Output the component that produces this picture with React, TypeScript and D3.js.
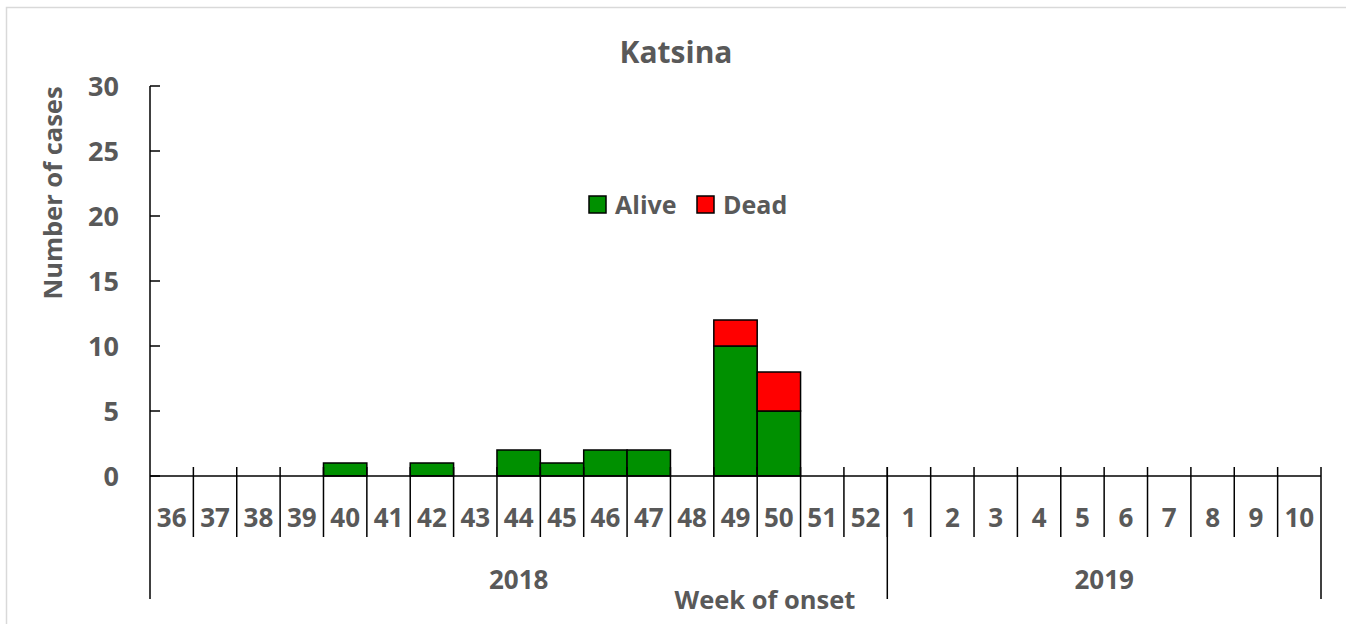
import React from "react";
import * as d3 from "d3";

// week of onset (2018 weeks 36-52, 2019 weeks 1-10)
const weeks2018 = ["36", "37", "38", "39", "40", "41", "42", "43", "44", "45", "46", "47", "48", "49", "50", "51", "52"];
const weeks2019 = ["1", "2", "3", "4", "5", "6", "7", "8", "9", "10"];
const alive2018 = [0, 0, 0, 0, 1, 0, 1, 0, 2, 1, 2, 2, 0, 10, 5, 0, 0];
const dead2018 = [0, 0, 0, 0, 0, 0, 0, 0, 0, 0, 0, 0, 0, 2, 3, 0, 0];
const alive2019 = [0, 0, 0, 0, 0, 0, 0, 0, 0, 0];
const dead2019 = [0, 0, 0, 0, 0, 0, 0, 0, 0, 0];
const yTicks = [0, 5, 10, 15, 20, 25, 30];
const seriesNames = ["Alive", "Dead"];
const colors = ["#009000", "#ff0000"];

const App = () => {
  const ref = React.useRef<SVGSVGElement>(null);

  React.useEffect(() => {
    const width = 1346;
    const height = 624;
    const margin = { left: 150, right: 25, top: 86, bottom: 148 };
    const font = "'Open Sans', 'DejaVu Sans', sans-serif";
    const textColor = "#595959";

    const svg = d3.select(ref.current);
    svg.selectAll("*").remove();

    const rows = [
      ...weeks2018.map((w, i) => ({ key: "2018-" + w, week: w, alive: alive2018[i], dead: dead2018[i] })),
      ...weeks2019.map((w, i) => ({ key: "2019-" + w, week: w, alive: alive2019[i], dead: dead2019[i] })),
    ];

    const x = d3.scaleBand()
      .domain(rows.map(d => d.key))
      .range([margin.left, width - margin.right])
      .padding(0);

    const y = d3.scaleLinear()
      .domain([0, 30])
      .range([height - margin.bottom, margin.top]);

    const stacked = d3.stack<any>().keys(["alive", "dead"])(rows);

    // outer frame (only top/left edge visible)
    svg.append("path")
      .attr("d", `M6.5,${height + 5} V7.5 H${width + 5}`)
      .attr("fill", "none")
      .attr("stroke", "#d9d9d9")
      .attr("stroke-width", 1.5);

    // title
    svg.append("text")
      .attr("x", 676)
      .attr("y", 63)
      .attr("text-anchor", "middle")
      .attr("font-family", font)
      .attr("font-weight", "bold")
      .attr("font-size", 30)
      .attr("fill", textColor)
      .text("Katsina");

    // bars
    svg.append("g")
      .selectAll("g")
      .data(stacked)
      .join("g")
      .attr("fill", (d, i) => colors[i])
      .selectAll("rect")
      .data(d => d.filter(s => s[1] - s[0] > 0))
      .join("rect")
      .attr("x", d => x(d.data.key)!)
      .attr("width", x.bandwidth())
      .attr("y", d => y(d[1]))
      .attr("height", d => y(d[0]) - y(d[1]))
      .attr("stroke", "#000")
      .attr("stroke-width", 1.5);

    const axisY = y(0);
    const bottom = 599;

    // y axis
    const yAxis = svg.append("g");
    yAxis.append("line")
      .attr("x1", margin.left).attr("x2", margin.left)
      .attr("y1", y(30)).attr("y2", bottom)
      .attr("stroke", "#000").attr("stroke-width", 1.5);
    yAxis.selectAll(".tick")
      .data(yTicks)
      .join("line")
      .attr("x1", margin.left).attr("x2", margin.left + 10)
      .attr("y1", d => y(d)).attr("y2", d => y(d))
      .attr("stroke", "#000").attr("stroke-width", 1.5);
    yAxis.selectAll("text")
      .data(yTicks)
      .join("text")
      .attr("x", 119)
      .attr("y", d => y(d))
      .attr("dy", "0.36em")
      .attr("text-anchor", "end")
      .attr("font-family", font)
      .attr("font-weight", "bold")
      .attr("font-size", 27)
      .attr("fill", textColor)
      .text(d => d);

    svg.append("text")
      .attr("transform", `translate(62,193) rotate(-90)`)
      .attr("text-anchor", "middle")
      .attr("font-family", font)
      .attr("font-weight", "bold")
      .attr("font-size", 25.5)
      .attr("fill", textColor)
      .text("Number of cases");

    // x axis
    const xAxis = svg.append("g");
    xAxis.append("line")
      .attr("x1", margin.left).attr("x2", width - margin.right)
      .attr("y1", axisY).attr("y2", axisY)
      .attr("stroke", "#000").attr("stroke-width", 1.5);

    const boundaries = rows.map(d => x(d.key)! + x.bandwidth()).slice(0, -1);
    xAxis.selectAll(".sep")
      .data(boundaries)
      .join("line")
      .attr("x1", d => d).attr("x2", d => d)
      .attr("y1", axisY - 9).attr("y2", 537)
      .attr("stroke", "#000").attr("stroke-width", 1.5);

    // year separators
    const yearEdges = [x("2019-1")!, width - margin.right];
    xAxis.selectAll(".year")
      .data(yearEdges)
      .join("line")
      .attr("x1", d => d).attr("x2", d => d)
      .attr("y1", axisY - 9).attr("y2", bottom)
      .attr("stroke", "#000").attr("stroke-width", 1.5);

    xAxis.selectAll(".wk")
      .data(rows)
      .join("text")
      .attr("x", d => x(d.key)! + x.bandwidth() / 2)
      .attr("y", 518)
      .attr("dy", "0.36em")
      .attr("text-anchor", "middle")
      .attr("font-family", font)
      .attr("font-weight", "bold")
      .attr("font-size", 26)
      .attr("fill", textColor)
      .text(d => d.week);

    const years = [
      { label: "2018", from: x("2018-36")!, to: x("2019-1")! },
      { label: "2019", from: x("2019-1")!, to: width - margin.right },
    ];
    xAxis.selectAll(".yr")
      .data(years)
      .join("text")
      .attr("x", d => (d.from + d.to) / 2)
      .attr("y", 580)
      .attr("dy", "0.36em")
      .attr("text-anchor", "middle")
      .attr("font-family", font)
      .attr("font-weight", "bold")
      .attr("font-size", 26)
      .attr("fill", textColor)
      .text(d => d.label);

    svg.append("text")
      .attr("x", 765)
      .attr("y", 609)
      .attr("text-anchor", "middle")
      .attr("font-family", font)
      .attr("font-weight", "bold")
      .attr("font-size", 25.5)
      .attr("fill", textColor)
      .text("Week of onset");

    // legend
    const legendX = [589, 697];
    const legend = svg.append("g")
      .selectAll("g")
      .data(seriesNames)
      .join("g")
      .attr("transform", (d, i) => `translate(${legendX[i]},196)`);
    legend.append("rect")
      .attr("width", 17).attr("height", 17)
      .attr("fill", (d, i) => colors[i])
      .attr("stroke", "#000").attr("stroke-width", 1.5);
    legend.append("text")
      .attr("x", 26)
      .attr("y", 9)
      .attr("dy", "0.36em")
      .attr("font-family", font)
      .attr("font-weight", "bold")
      .attr("font-size", 25)
      .attr("fill", textColor)
      .text(d => d);
  }, []);

  return (
    <svg
      ref={ref}
      width={1346}
      height={624}
      style={{ position: "absolute", left: 0, top: 0, background: "#fff" }}
    />
  );
};

export default App;
